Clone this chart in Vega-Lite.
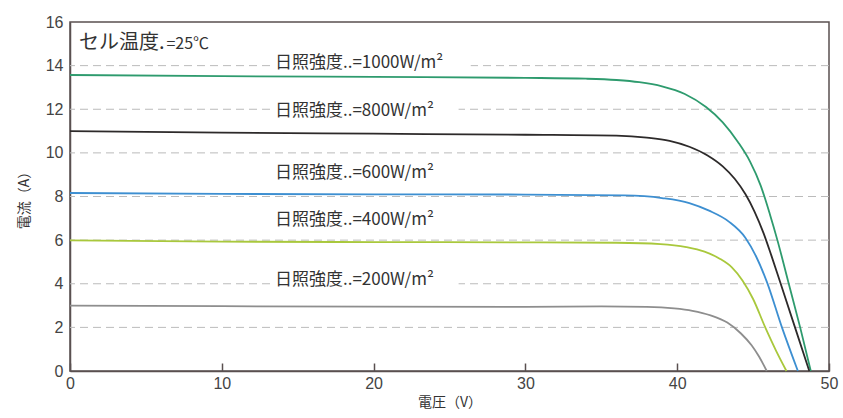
{
  "$schema": "https://vega.github.io/schema/vega-lite/v6.json",
  "width": 759,
  "height": 349,
  "autosize": {"type": "none"},
  "padding": {"left": 70, "top": 22, "right": 14, "bottom": 47},
  "background": "white",
  "config": {
    "view": {"stroke": "#5a5050", "strokeWidth": 1.5},
    "font": "Liberation Sans",
    "axisX": {
      "grid": false, "labelFlush": false,
      "tickSize": -8, "tickColor": "#5a5050", "tickWidth": 1.5,
      "labelPadding": 12, "labelFont": "Liberation Sans", "labelFontSize": 16, "labelColor": "#444444",
      "domainColor": "#5a5050", "domainWidth": 1.5,
      "titleFont": "Noto Sans CJK JP", "titleFontSize": 14, "titleFontWeight": "normal", "titleColor": "#333333", "titlePadding": 4
    },
    "axisY": {
      "grid": false, "ticks": false, "labelFlush": false,
      "labelPadding": 7, "labelFont": "Liberation Sans", "labelFontSize": 16, "labelColor": "#444444",
      "domainColor": "#5a5050", "domainWidth": 1.5,
      "titleFont": "Noto Sans CJK JP", "titleFontSize": 14, "titleFontWeight": "normal", "titleColor": "#333333", "titlePadding": 14
    }
  },
  "datasets": {
    "grid": [{"I": 2}, {"I": 4}, {"I": 6}, {"I": 8}, {"I": 10}, {"I": 12}, {"I": 14}],
    "boxes": [
      {"V": 13.2, "V2": 26.4, "I": 13.75, "I2": 14.5},
      {"V": 13.2, "V2": 25.6, "I": 11.55, "I2": 12.3},
      {"V": 13.2, "V2": 25.6, "I": 3.8, "I2": 4.55}
    ],
    "curves": [
      {"s": "1000", "V": 0, "I": 13.57}, {"s": "1000", "V": 10, "I": 13.52}, {"s": "1000", "V": 20, "I": 13.48}, {"s": "1000", "V": 30, "I": 13.44}, {"s": "1000", "V": 34, "I": 13.4}, {"s": "1000", "V": 36, "I": 13.34}, {"s": "1000", "V": 37.5, "I": 13.24}, {"s": "1000", "V": 39, "I": 13.05}, {"s": "1000", "V": 40.5, "I": 12.7}, {"s": "1000", "V": 41.9, "I": 12.1}, {"s": "1000", "V": 43.0, "I": 11.4}, {"s": "1000", "V": 44.0, "I": 10.5}, {"s": "1000", "V": 44.8, "I": 9.6}, {"s": "1000", "V": 45.5, "I": 8.5}, {"s": "1000", "V": 46.1, "I": 7.2}, {"s": "1000", "V": 46.6, "I": 6.0}, {"s": "1000", "V": 47.35, "I": 4.0}, {"s": "1000", "V": 48.1, "I": 2.0}, {"s": "1000", "V": 48.8, "I": 0},
      {"s": "800", "V": 0, "I": 11.0}, {"s": "800", "V": 10, "I": 10.93}, {"s": "800", "V": 20, "I": 10.88}, {"s": "800", "V": 30, "I": 10.83}, {"s": "800", "V": 36, "I": 10.79}, {"s": "800", "V": 38, "I": 10.7}, {"s": "800", "V": 39.5, "I": 10.55}, {"s": "800", "V": 40.8, "I": 10.28}, {"s": "800", "V": 42.0, "I": 9.88}, {"s": "800", "V": 43.0, "I": 9.38}, {"s": "800", "V": 43.8, "I": 8.8}, {"s": "800", "V": 44.5, "I": 8.1}, {"s": "800", "V": 45.1, "I": 7.3}, {"s": "800", "V": 45.7, "I": 6.3}, {"s": "800", "V": 46.2, "I": 5.3}, {"s": "800", "V": 46.77, "I": 4.1}, {"s": "800", "V": 47.76, "I": 2.0}, {"s": "800", "V": 48.7, "I": 0},
      {"s": "600", "V": 0, "I": 8.16}, {"s": "600", "V": 10, "I": 8.12}, {"s": "600", "V": 20, "I": 8.1}, {"s": "600", "V": 30, "I": 8.09}, {"s": "600", "V": 36.5, "I": 8.05}, {"s": "600", "V": 39, "I": 7.93}, {"s": "600", "V": 40.8, "I": 7.7}, {"s": "600", "V": 42.1, "I": 7.35}, {"s": "600", "V": 43.4, "I": 6.85}, {"s": "600", "V": 44.5, "I": 6.1}, {"s": "600", "V": 45.2, "I": 5.25}, {"s": "600", "V": 45.9, "I": 4.1}, {"s": "600", "V": 46.9, "I": 2.0}, {"s": "600", "V": 47.95, "I": 0},
      {"s": "400", "V": 0, "I": 5.99}, {"s": "400", "V": 10, "I": 5.93}, {"s": "400", "V": 20, "I": 5.91}, {"s": "400", "V": 30, "I": 5.9}, {"s": "400", "V": 36, "I": 5.88}, {"s": "400", "V": 38.9, "I": 5.82}, {"s": "400", "V": 40.6, "I": 5.68}, {"s": "400", "V": 41.8, "I": 5.47}, {"s": "400", "V": 42.8, "I": 5.15}, {"s": "400", "V": 43.6, "I": 4.75}, {"s": "400", "V": 44.3, "I": 4.15}, {"s": "400", "V": 45.0, "I": 3.3}, {"s": "400", "V": 45.8, "I": 2.0}, {"s": "400", "V": 46.5, "I": 0.95}, {"s": "400", "V": 47.2, "I": 0},
      {"s": "200", "V": 0, "I": 3.0}, {"s": "200", "V": 10, "I": 2.97}, {"s": "200", "V": 20, "I": 2.95}, {"s": "200", "V": 30, "I": 2.94}, {"s": "200", "V": 35, "I": 2.96}, {"s": "200", "V": 38, "I": 2.94}, {"s": "200", "V": 39.8, "I": 2.87}, {"s": "200", "V": 41, "I": 2.76}, {"s": "200", "V": 42.2, "I": 2.55}, {"s": "200", "V": 43.3, "I": 2.22}, {"s": "200", "V": 44.2, "I": 1.72}, {"s": "200", "V": 44.9, "I": 1.18}, {"s": "200", "V": 45.4, "I": 0.65}, {"s": "200", "V": 45.9, "I": 0}
    ],
    "labels": [
      {"V": 13.5, "I": 14.14, "t": "日照強度..=1000W/m²"},
      {"V": 13.5, "I": 11.92, "t": "日照強度..=800W/m²"},
      {"V": 13.5, "I": 9.08, "t": "日照強度..=600W/m²"},
      {"V": 13.5, "I": 6.94, "t": "日照強度..=400W/m²"},
      {"V": 13.5, "I": 4.18, "t": "日照強度..=200W/m²"}
    ],
    "cell1": [{"V": 0.6, "I": 15.04, "t": "セル温度."}],
    "cell2": [{"V": 6.35, "I": 15.0, "t": "=25℃"}]
  },
  "layer": [
    {
      "data": {"name": "grid"},
      "mark": {"type": "rule", "color": "#bbbbbb", "strokeWidth": 1, "strokeDash": [8, 5]},
      "encoding": {
        "y": {"field": "I", "type": "quantitative", "scale": {"domain": [0, 16], "nice": false}, "title": "電流（A）", "axis": {"values": [0, 2, 4, 6, 8, 10, 12, 14, 16]}}
      }
    },
    {
      "data": {"name": "boxes"},
      "mark": {"type": "rect", "color": "white"},
      "encoding": {
        "x": {"field": "V", "type": "quantitative", "scale": {"domain": [0, 50], "nice": false}, "title": "電圧（V）", "axis": {"values": [0, 10, 20, 30, 40, 50]}},
        "x2": {"field": "V2"},
        "y": {"field": "I", "type": "quantitative", "scale": {"domain": [0, 16], "nice": false}, "title": "電流（A）", "axis": {"values": [0, 2, 4, 6, 8, 10, 12, 14, 16]}},
        "y2": {"field": "I2"}
      }
    },
    {
      "data": {"name": "curves"},
      "mark": {"type": "line", "interpolate": "monotone", "strokeWidth": 1.8},
      "encoding": {
        "x": {"field": "V", "type": "quantitative", "scale": {"domain": [0, 50], "nice": false}, "title": "電圧（V）", "axis": {"values": [0, 10, 20, 30, 40, 50]}},
        "y": {"field": "I", "type": "quantitative", "scale": {"domain": [0, 16], "nice": false}, "title": "電流（A）", "axis": {"values": [0, 2, 4, 6, 8, 10, 12, 14, 16]}},
        "color": {
          "field": "s", "type": "nominal",
          "scale": {"domain": ["1000", "800", "600", "400", "200"], "range": ["#2e9b6e", "#2d2a2a", "#3d8fd1", "#a9c83c", "#8e8e8e"]},
          "legend": null
        }
      }
    },
    {
      "data": {"name": "labels"},
      "mark": {"type": "text", "align": "left", "baseline": "middle", "font": "Noto Sans CJK JP", "fontSize": 17, "color": "#333333"},
      "encoding": {
        "x": {"field": "V", "type": "quantitative", "scale": {"domain": [0, 50], "nice": false}, "title": "電圧（V）", "axis": {"values": [0, 10, 20, 30, 40, 50]}},
        "y": {"field": "I", "type": "quantitative", "scale": {"domain": [0, 16], "nice": false}, "title": "電流（A）", "axis": {"values": [0, 2, 4, 6, 8, 10, 12, 14, 16]}},
        "text": {"field": "t"}
      }
    },
    {
      "data": {"name": "cell1"},
      "mark": {"type": "text", "align": "left", "baseline": "middle", "font": "Noto Sans CJK JP", "fontSize": 20, "color": "#333333"},
      "encoding": {
        "x": {"field": "V", "type": "quantitative", "scale": {"domain": [0, 50], "nice": false}, "title": "電圧（V）", "axis": {"values": [0, 10, 20, 30, 40, 50]}},
        "y": {"field": "I", "type": "quantitative", "scale": {"domain": [0, 16], "nice": false}, "title": "電流（A）", "axis": {"values": [0, 2, 4, 6, 8, 10, 12, 14, 16]}},
        "text": {"field": "t"}
      }
    },
    {
      "data": {"name": "cell2"},
      "mark": {"type": "text", "align": "left", "baseline": "middle", "font": "Noto Sans CJK JP", "fontSize": 16, "color": "#333333"},
      "encoding": {
        "x": {"field": "V", "type": "quantitative", "scale": {"domain": [0, 50], "nice": false}, "title": "電圧（V）", "axis": {"values": [0, 10, 20, 30, 40, 50]}},
        "y": {"field": "I", "type": "quantitative", "scale": {"domain": [0, 16], "nice": false}, "title": "電流（A）", "axis": {"values": [0, 2, 4, 6, 8, 10, 12, 14, 16]}},
        "text": {"field": "t"}
      }
    }
  ]
}
